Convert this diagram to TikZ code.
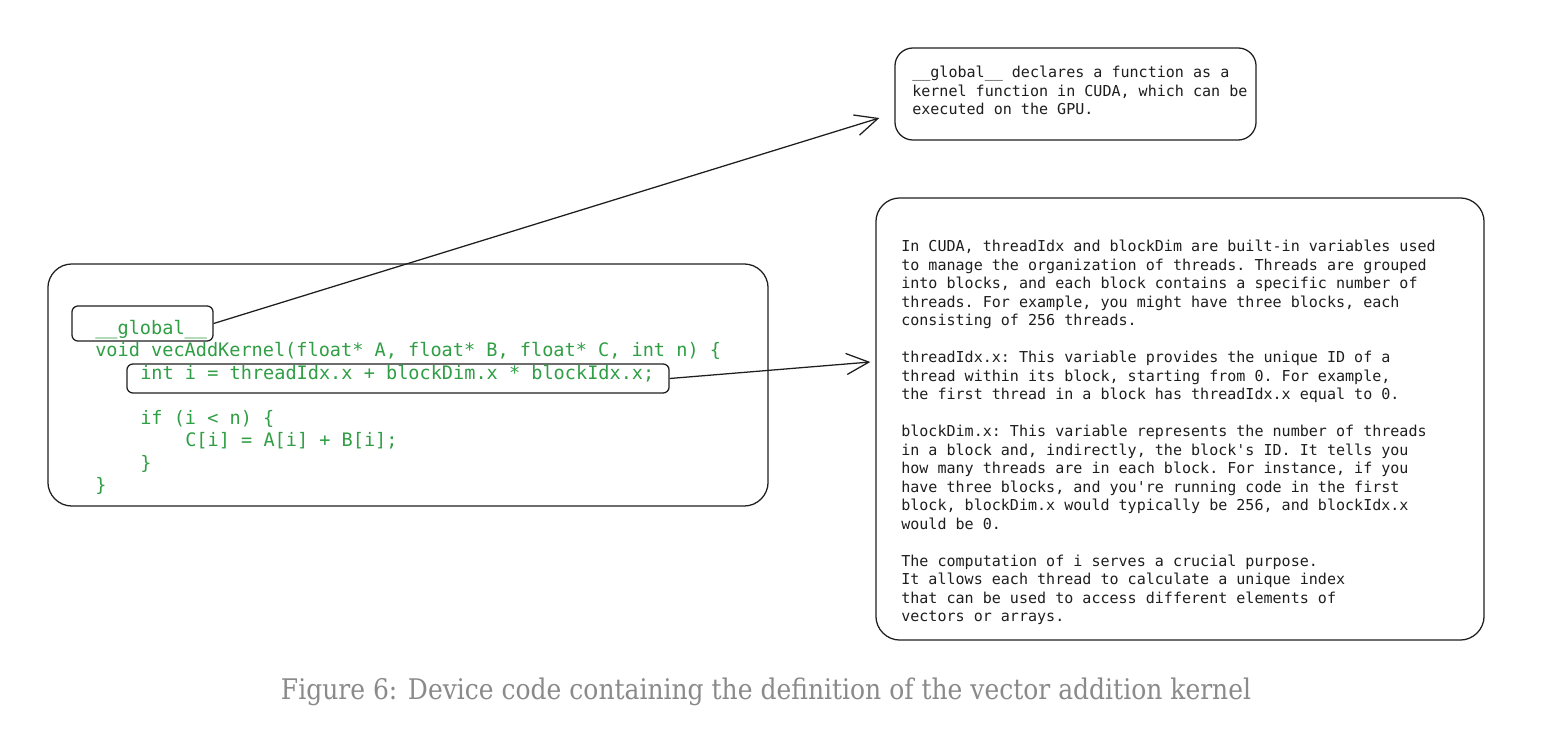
\documentclass[tikz,border=0pt]{standalone}
\usepackage{fontspec}
\setmonofont{DejaVu Sans Mono}
\newfontfamily\capfont[FakeStretch=0.88]{DejaVu Serif}
\usetikzlibrary{arrows.meta, positioning}
\definecolor{codegreen}{HTML}{2F9E44}
\definecolor{inkblack}{HTML}{1E1E1E}
\definecolor{capgray}{HTML}{8A8A8A}

\begin{document}
\begin{tikzpicture}[
    x=0.025cm, y=-0.025cm,
    roundbox/.style={rectangle, draw=inkblack, line width=0.9pt, rounded corners=0.6cm, inner sep=0pt},
    notebox/.style={rectangle, draw=inkblack, line width=0.9pt, rounded corners=0.45cm, inner sep=0pt},
    hlbox/.style={rectangle, draw=inkblack, line width=0.9pt, rounded corners=0.15cm, inner sep=0pt},
    code/.style={anchor=base west, inner sep=0pt, text=codegreen, font=\ttfamily\fontsize{13.2}{16}\selectfont},
    notetext/.style={anchor=north west, inner sep=0pt, align=left, text=inkblack, font=\ttfamily\fontsize{10.7}{13.15}\selectfont},
    arrow/.style={-{Straight Barb[length=16pt, width=15pt]}, line width=0.9pt, draw=inkblack},
  ]

  \useasboundingbox (0,0) rectangle (1542,754);

  % code block
  \node[roundbox, minimum width=18cm, minimum height=6.05cm] (codebox) at (408,385) {};
  \node[hlbox, minimum width=3.525cm, minimum height=0.875cm] (glob) at (142.5,323.5) {};
  \node[hlbox, minimum width=13.55cm, minimum height=0.725cm] (idx) at (398,378.5) {};

  \node[code] (l1) at (95,334) {\_\_global\_\_};
  \node[code] (l2) at (95,356) {void vecAddKernel(float* A, float* B, float* C, int n) \{};
  \node[code] (l3) at (140,379) {int i = threadIdx.x + blockDim.x * blockIdx.x;};
  \node[code] (l4) at (140,424) {if (i < n) \{};
  \node[code] (l5) at (185,446) {C[i] = A[i] + B[i];};
  \node[code] (l6) at (140,469) {\}};
  \node[code] (l7) at (95,491) {\}};

  % notes
  \node[notebox, minimum width=9.025cm, minimum height=2.3cm] (gnote) at (1075.5,94) {};
  \node[notetext] (gtext) at (912,66) {\_\_global\_\_ declares a function as a\\
    kernel function in CUDA, which can be\\
    executed on the GPU.};

  \node[roundbox, minimum width=15.2cm, minimum height=11.05cm] (inote) at (1180,419) {};
  \node[notetext] (itext) at (901,240) {In CUDA, threadIdx and blockDim are built-in variables used\\
    to manage the organization of threads. Threads are grouped\\
    into blocks, and each block contains a specific number of\\
    threads. For example, you might have three blocks, each\\
    consisting of 256 threads.\\[13.15pt]
    threadIdx.x: This variable provides the unique ID of a\\
    thread within its block, starting from 0. For example,\\
    the first thread in a block has threadIdx.x equal to 0.\\[13.15pt]
    blockDim.x: This variable represents the number of threads\\
    in a block and, indirectly, the block's ID. It tells you\\
    how many threads are in each block. For instance, if you\\
    have three blocks, and you're running code in the first\\
    block, blockDim.x would typically be 256, and blockIdx.x\\
    would be 0.\\[13.15pt]
    The computation of i serves a crucial purpose.\\
    It allows each thread to calculate a unique index\\
    that can be used to access different elements of\\
    vectors or arrays.};

  \draw[arrow] (glob.east) -- ([shift={(-15,24)}]gnote.west);
  \draw[arrow] (idx.east) -- ([shift={(-5,-57)}]inote.west);

  \node[text=capgray, font=\capfont\fontsize{20.2}{24}\selectfont] (caption) at (766,692) {Figure 6: Device code containing the definition of the vector addition kernel};

\end{tikzpicture}
\end{document}
